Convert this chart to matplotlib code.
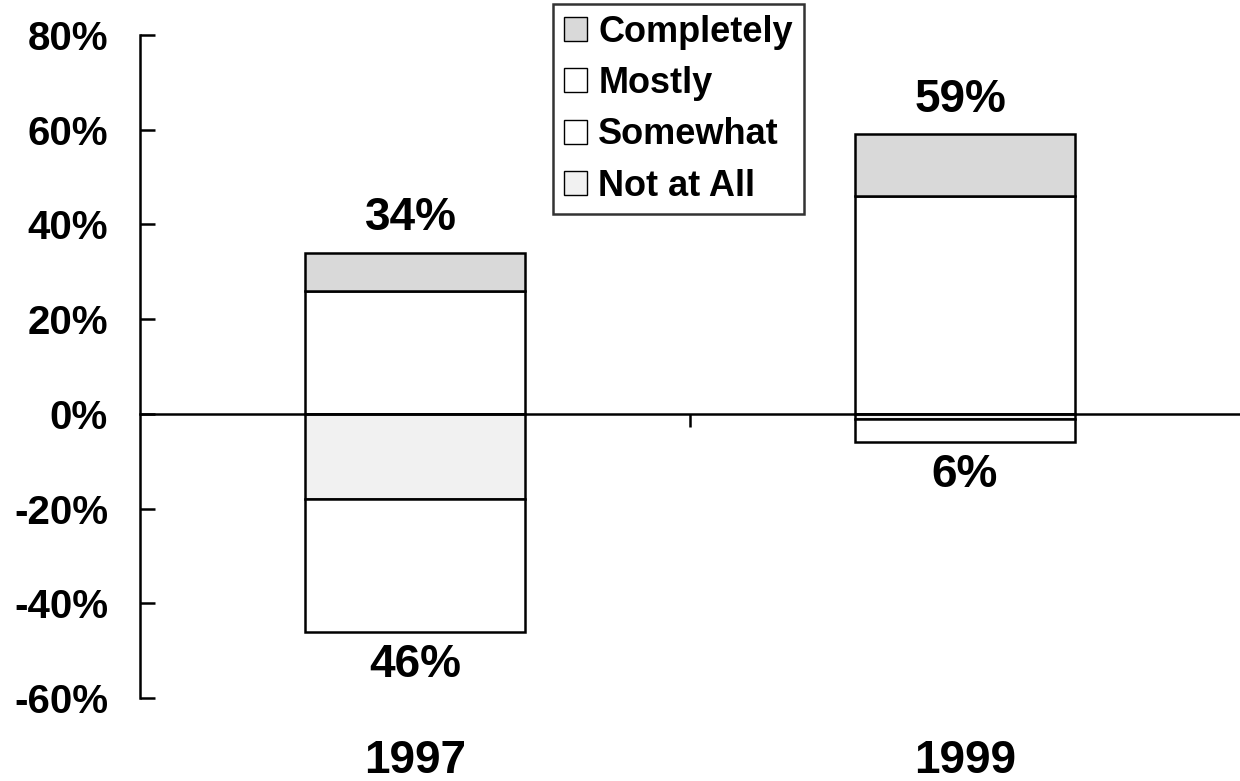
import numpy as np
import matplotlib
matplotlib.use('Agg')
import matplotlib.pyplot as plt
from matplotlib.patches import Patch
from matplotlib.ticker import FuncFormatter, FixedLocator

years = ['1997', '1999']
completely = [8, 13]
mostly = [26, 46]
not_at_all = [-18, -1]
somewhat = [-28, -5]

plt.rcParams['font.family'] = ['Liberation Sans', 'DejaVu Sans']
plt.rcParams['font.weight'] = 'bold'

fig = plt.figure(figsize=(12.4, 7.81), dpi=100)
ax = fig.add_axes([140 / 1240, 83 / 781, 1100 / 1240, 663 / 781])

x = np.arange(len(years))
w = 0.4
edge = dict(edgecolor='black', linewidth=1.8)

c_col = '#d9d9d9'
m_col = 'white'
s_col = 'white'
n_col = '#f1f1f1'

ax.bar(x, mostly, w, color=m_col, **edge)
ax.bar(x, completely, w, bottom=mostly, color=c_col, **edge)
ax.bar(x, not_at_all, w, color=n_col, **edge)
ax.bar(x, somewhat, w, bottom=not_at_all, color=s_col, **edge)

pos_tot = np.array(mostly) + np.array(completely)
neg_tot = np.array(not_at_all) + np.array(somewhat)
for i in range(len(years)):
    ax.annotate('%d%%' % pos_tot[i], (x[i], pos_tot[i]), xytext=(-3, 9),
                textcoords='offset points', ha='center', va='bottom',
                fontsize=33, fontweight='bold')
    ax.annotate('%d%%' % abs(neg_tot[i]), (x[i], neg_tot[i]), xytext=(0, -8),
                textcoords='offset points', ha='center', va='top',
                fontsize=33, fontweight='bold')
    ax.text(x[i], -0.095, years[i], transform=ax.get_xaxis_transform(),
            ha='center', va='center', fontsize=33, fontweight='bold')

ax.set_xlim(-0.5, 1.5)
ax.set_ylim(-60, 80)
ax.set_yticks(np.arange(-60, 81, 20))
ax.yaxis.set_major_formatter(FuncFormatter(lambda v, p: '%d%%' % v))
ax.tick_params(axis='y', direction='in', length=11, width=1.8, pad=23,
               labelsize=29)
for t in ax.get_yticklabels():
    t.set_fontweight('bold')

ax.spines['top'].set_visible(False)
ax.spines['right'].set_visible(False)
ax.spines['left'].set_linewidth(1.8)
ax.spines['bottom'].set_position(('data', 0))
ax.spines['bottom'].set_linewidth(1.8)
ax.xaxis.set_major_locator(FixedLocator([0.5]))
ax.set_xticklabels([''])
ax.tick_params(axis='x', direction='out', length=9, width=1.8)

handles = [Patch(facecolor=c_col, edgecolor='black', label='Completely'),
           Patch(facecolor=m_col, edgecolor='black', label='Mostly'),
           Patch(facecolor=s_col, edgecolor='black', label='Somewhat'),
           Patch(facecolor=n_col, edgecolor='black', label='Not at All')]
leg = fig.legend(handles=handles, loc='upper left',
                 bbox_to_anchor=(553 / 1240, 1 - 4 / 781),
                 prop={'size': 26, 'weight': 'bold'}, frameon=True,
                 fancybox=False, edgecolor='black', handlelength=0.65,
                 handleheight=0.65, handletextpad=0.3, labelspacing=0.45,
                 borderpad=0.3, borderaxespad=0)
leg.get_frame().set_linewidth(1.8)

fig.savefig('out.png', dpi=100, facecolor='white')
